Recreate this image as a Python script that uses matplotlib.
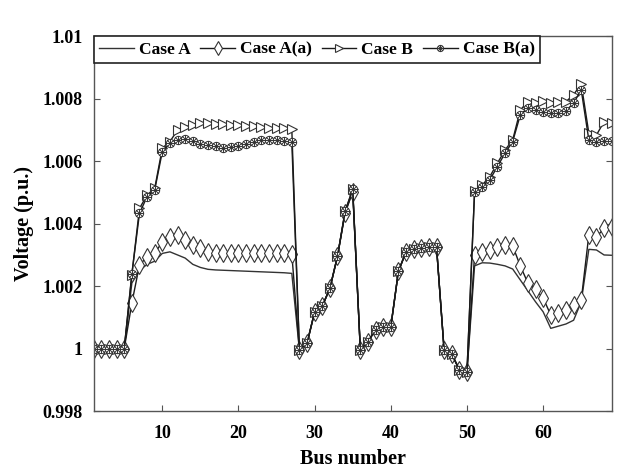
import numpy as np
import matplotlib
matplotlib.use("Agg")
import matplotlib.pyplot as plt
from matplotlib.path import Path

# bus voltages (p.u.), buses 1..69
bus = list(range(1, 70))

case_a = [1.0, 1.0, 1.0, 1.0, 1.0, 1.0021, 1.0025, 1.0027, 1.0028, 1.00305,
          1.0031, 1.0030, 1.0029, 1.0027, 1.0026, 1.00254, 1.00252, 1.00251, 1.0025, 1.00249,
          1.00248, 1.00247, 1.00246, 1.00245, 1.00244, 1.00243, 1.00241, 0.99995, 1.00017, 1.00118,
          1.00136, 1.00193, 1.00296, 1.00435, 1.00503, 0.99995, 1.00022, 1.00061, 1.0007, 1.0007,
          1.00248, 1.0031, 1.00318, 1.00321, 1.00326, 1.00326, 0.99995, 0.99982, 0.99933, 0.99926,
          1.00265, 1.00275, 1.00274, 1.0027, 1.00265, 1.00255, 1.0022, 1.00185, 1.0015, 1.00118,
          1.00065, 1.00072, 1.00079, 1.00091, 1.0015, 1.00318, 1.00316, 1.0030, 1.00299]

case_a_a = [1.0, 1.0, 1.0, 1.0, 1.0, 1.00146, 1.00268, 1.00294, 1.00305, 1.00342,
            1.00358, 1.00364, 1.00348, 1.00332, 1.00321, 1.0031, 1.00306, 1.00305, 1.00305, 1.00305,
            1.00305, 1.00305, 1.00305, 1.00305, 1.00305, 1.00305, 1.00304, 0.99995, 1.00017, 1.00118,
            1.00136, 1.00193, 1.00296, 1.00435, 1.00503, 0.99995, 1.00022, 1.00061, 1.0007, 1.0007,
            1.00248, 1.0031, 1.00318, 1.00321, 1.00326, 1.00326, 0.99995, 0.99982, 0.99933, 0.99926,
            1.0030, 1.0031, 1.00316, 1.00326, 1.00332, 1.00329, 1.00265, 1.0021, 1.0019, 1.00162,
            1.00108, 1.00115, 1.00125, 1.00139, 1.00155, 1.00364, 1.00358, 1.00385, 1.0039]

case_b = [1.0, 1.0, 1.0, 1.0, 1.0, 1.00236, 1.00449, 1.00492, 1.00513, 1.00642,
          1.00663, 1.0070, 1.00711, 1.00715, 1.00722, 1.00722, 1.0072, 1.00718, 1.00716, 1.00715,
          1.00713, 1.00712, 1.0071, 1.00708, 1.00707, 1.00705, 1.00703, 0.99995, 1.00017, 1.00118,
          1.00136, 1.00193, 1.00296, 1.0044, 1.0051, 0.99995, 1.00022, 1.00061, 1.0007, 1.0007,
          1.00248, 1.0031, 1.00318, 1.00321, 1.00326, 1.00326, 0.99995, 0.99982, 0.99933, 0.99926,
          1.00505, 1.00524, 1.00551, 1.00594, 1.00636, 1.00668, 1.00764, 1.00791, 1.00786, 1.00794,
          1.00786, 1.0079, 1.00791, 1.00813, 1.00848, 1.0069, 1.00684, 1.00727, 1.00724]

case_b_a = [1.0, 1.0, 1.0, 1.0, 1.0, 1.0024, 1.00433, 1.00487, 1.00508, 1.00631,
            1.00658, 1.00668, 1.00672, 1.00665, 1.00655, 1.00652, 1.00648, 1.00642, 1.00645, 1.0065,
            1.00656, 1.00662, 1.00667, 1.00668, 1.00667, 1.00665, 1.00663, 0.99995, 1.00017, 1.00118,
            1.00136, 1.00193, 1.00296, 1.0044, 1.0051, 0.99995, 1.00022, 1.00061, 1.0007, 1.0007,
            1.00248, 1.0031, 1.00318, 1.00321, 1.00326, 1.00326, 0.99995, 0.99982, 0.99933, 0.99926,
            1.00503, 1.00519, 1.00541, 1.00583, 1.00626, 1.00663, 1.00748, 1.0077, 1.00764, 1.00759,
            1.00754, 1.00756, 1.00762, 1.00786, 1.00829, 1.00668, 1.00663, 1.00665, 1.00665]

x_ticks = [10, 20, 30, 40, 50, 60]
y_ticks = [0.998, 1.0, 1.002, 1.004, 1.006, 1.008, 1.01]
y_labels = ["0.998", "1", "1.002", "1.004", "1.006", "1.008", "1.01"]

plt.rcParams['font.family'] = ['Liberation Serif', 'DejaVu Serif']
plt.rcParams['font.weight'] = 'bold'

# circle with an asterisk inside, like the Case B(a) marker
circ = Path.unit_circle()
spokes = []
for ang in np.deg2rad([0, 45, 90, 135]):
    c, s = np.cos(ang), np.sin(ang)
    spokes.append(Path([(-c, -s), (c, s)], [Path.MOVETO, Path.LINETO]))
star_circle = Path.make_compound_path(circ, *spokes)

fig = plt.figure(figsize=(6.21, 4.72), dpi=100)
ax = fig.add_axes([0.151, 0.129, 0.834, 0.794])

lc = '#1a1a1a'
ax.plot(bus, case_a, color='#333333', lw=1.0, label='Case A')
ax.plot(bus, case_a_a, color=lc, lw=1.0, marker='d', ms=9, mfc='white',
        mec='#333333', mew=0.8, label='Case A(a)')
ax.plot(bus, case_b, color=lc, lw=1.0, marker='>', ms=7.5, mfc='white',
        mec='#333333', mew=0.8, label='Case B')
ax.plot(bus, case_b_a, color=lc, lw=1.0, marker=star_circle, ms=6, mfc='white',
        mec='#333333', mew=0.7, label='Case B(a)')

ax.set_xlim(1, 69)
ax.set_ylim(0.998, 1.01)
ax.set_xticks(x_ticks)
ax.set_yticks(y_ticks)
ax.set_yticklabels(y_labels)
ax.tick_params(axis='both', direction='in', length=4, width=0.8,
               labelsize=13, color='#555555')
ax.tick_params(axis='x', pad=10)
ax.tick_params(axis='y', right=True, pad=8)
for lab in ax.get_xticklabels() + ax.get_yticklabels():
    lab.set_fontweight('bold')
for sp in ax.spines.values():
    sp.set_color('#555555')
    sp.set_linewidth(1.0)

ax.set_xlabel('Bus number', fontsize=14.5, fontweight='bold', labelpad=5)
ax.set_ylabel('Voltage (p.u.)', fontsize=14.5, fontweight='bold', labelpad=6)

leg = ax.legend(loc='upper left', bbox_to_anchor=(0, 1), borderaxespad=0,
                ncol=4, fancybox=False, edgecolor='#222222', framealpha=1,
                prop={'family': 'Liberation Serif', 'weight': 'bold', 'size': 12.5},
                handlelength=2.0, handletextpad=0.3, columnspacing=0.55,
                borderpad=0.3, markerscale=0.75)
leg.get_frame().set_linewidth(1.2)

fig.savefig('out.png', dpi=100)
